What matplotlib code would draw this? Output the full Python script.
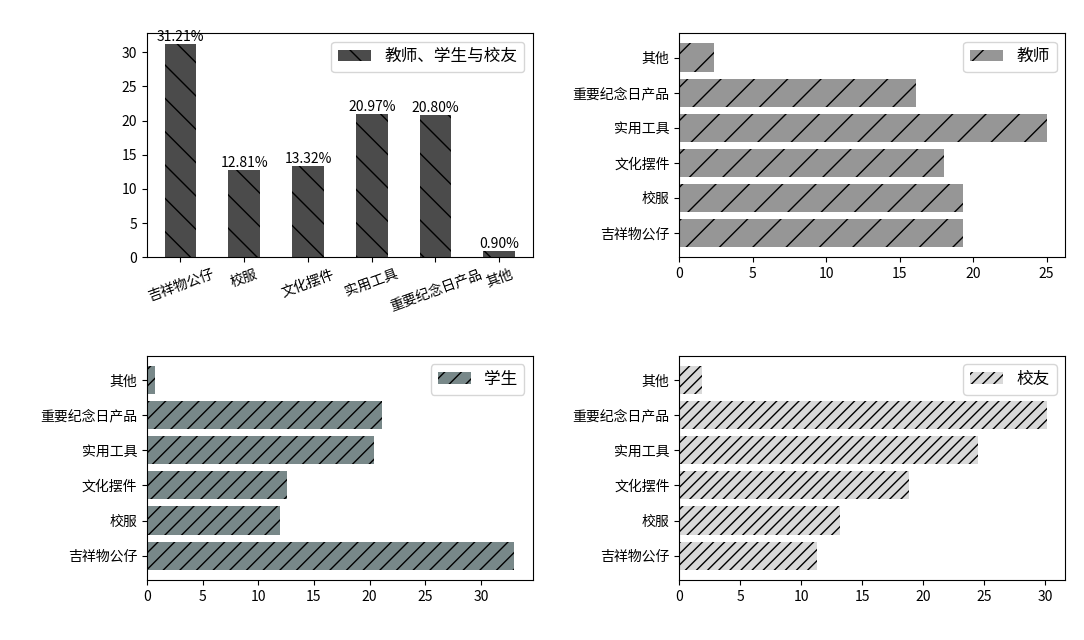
import numpy as np
import matplotlib
matplotlib.use('Agg')
import matplotlib.pyplot as plt

plt.rcParams['font.family'] = ['Noto Sans CJK SC', 'DejaVu Sans']
plt.rcParams['axes.unicode_minus'] = False

categories = ['吉祥物公仔', '校服', '文化摆件', '实用工具', '重要纪念日产品', '其他']
all_pct = [31.21, 12.81, 13.32, 20.97, 20.80, 0.90]
teacher = [19.3, 19.3, 18.0, 25.0, 16.1, 2.35]
student = [33.0, 11.95, 12.6, 20.4, 21.1, 0.7]
alumni = [11.3, 13.2, 18.85, 24.5, 30.15, 1.85]

fig, axes = plt.subplots(2, 2, figsize=(10.84, 6.4), dpi=100)
fig.subplots_adjust(left=0.1356, right=0.9825, top=0.948, bottom=0.094,
                    wspace=0.38, hspace=0.44)

x = np.arange(len(categories))

# overall
ax = axes[0, 0]
bars = ax.bar(x, all_pct, width=0.5, color='#4b4b4b', hatch='\\',
              label='教师、学生与校友')
for b, v in zip(bars, all_pct):
    ax.text(b.get_x() + b.get_width() / 2, b.get_height(), '{:.2f}%'.format(v),
            ha='center', va='bottom', fontsize=10)
ax.set_xticks(x)
ax.set_xticklabels(categories, rotation=20)
ax.legend(loc='upper right', fontsize=12)

# teachers / students / alumni
groups = [(axes[0, 1], teacher, '#969696', '/', '教师'),
          (axes[1, 0], student, '#788889', '//', '学生'),
          (axes[1, 1], alumni, '#d9d9d9', '///', '校友')]
for ax, vals, col, h, name in groups:
    ax.barh(x, vals, color=col, hatch=h, label=name)
    ax.set_yticks(x)
    ax.set_yticklabels(categories)
    ax.legend(loc='upper right', fontsize=12)

plt.savefig('out.png', dpi=100)
